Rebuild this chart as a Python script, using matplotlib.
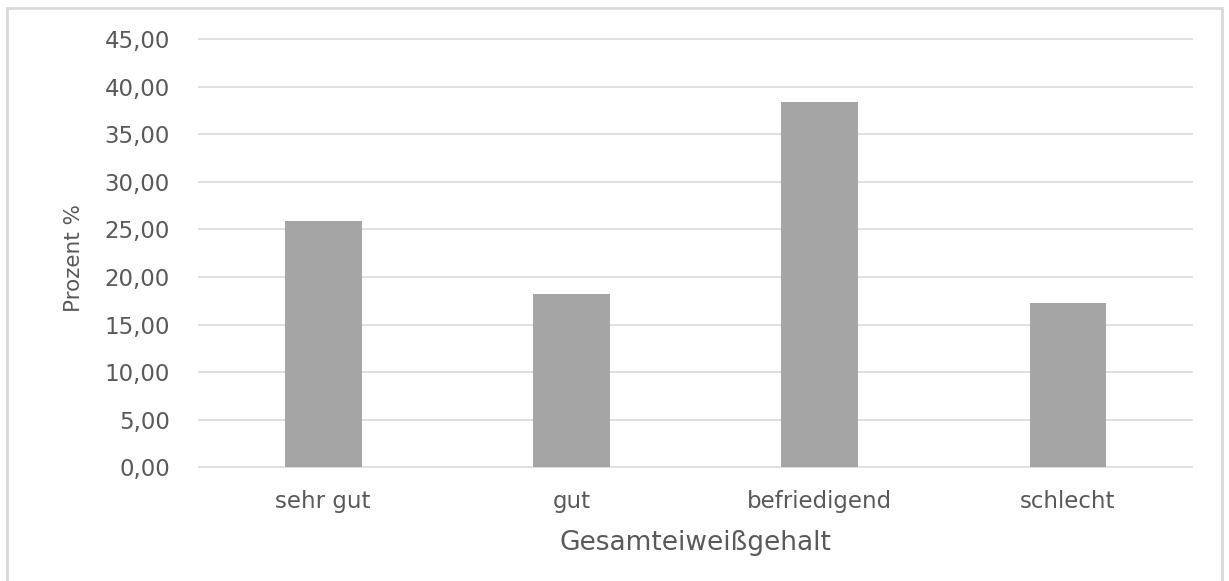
import matplotlib.pyplot as plt
from matplotlib.patches import Rectangle

categories = ["sehr gut", "gut", "befriedigend", "schlecht"]
prozent = [25.9, 18.2, 38.4, 17.3]
y_ticks = [0, 5, 10, 15, 20, 25, 30, 35, 40, 45]

plt.rcParams['font.family'] = ['DejaVu Sans']
text_col = "#595959"

fig = plt.figure(figsize=(12.29, 5.81), dpi=100)
ax = fig.add_axes([0.1619, 0.1954, 0.8081, 0.7375])

x = list(range(len(categories)))
ax.bar(x, prozent, width=0.31, color="#A5A5A5", zorder=3)

ax.set_xlim(-0.5, len(categories) - 0.5)
ax.set_ylim(0, 45)
ax.set_yticks(y_ticks)
ax.set_yticklabels([f"{v:.2f}".replace(".", ",") for v in y_ticks])
ax.set_xticks(x)
ax.set_xticklabels(categories)

# excel style grid, no frame
ax.grid(axis="y", color="#D9D9D9", linewidth=1.2, zorder=0)
for gl in ax.yaxis.get_gridlines():
    gl.set_clip_on(False)
for s in ax.spines.values():
    s.set_visible(False)
ax.tick_params(axis="y", length=0, pad=21, labelsize=16.5, labelcolor=text_col)
ax.tick_params(axis="x", length=0, pad=16, labelsize=16.5, labelcolor=text_col)

ax.set_ylabel("Prozent %", fontsize=15.5, color=text_col)
ax.yaxis.set_label_coords(-0.126, 0.49)
ax.set_xlabel("Gesamteiweißgehalt", fontsize=19, color=text_col)
ax.xaxis.set_label_coords(0.5, -0.1765)
ax.xaxis.label.set_va("center")
ax.yaxis.label.set_va("center")

# chart border
fig.patches.append(Rectangle((7 / 1229, -0.05), (1222 - 7) / 1229, 1.05 - 8 / 581,
                             transform=fig.transFigure, fill=False,
                             edgecolor="#D9D9D9", linewidth=2))

fig.savefig("out.png", dpi=100)
